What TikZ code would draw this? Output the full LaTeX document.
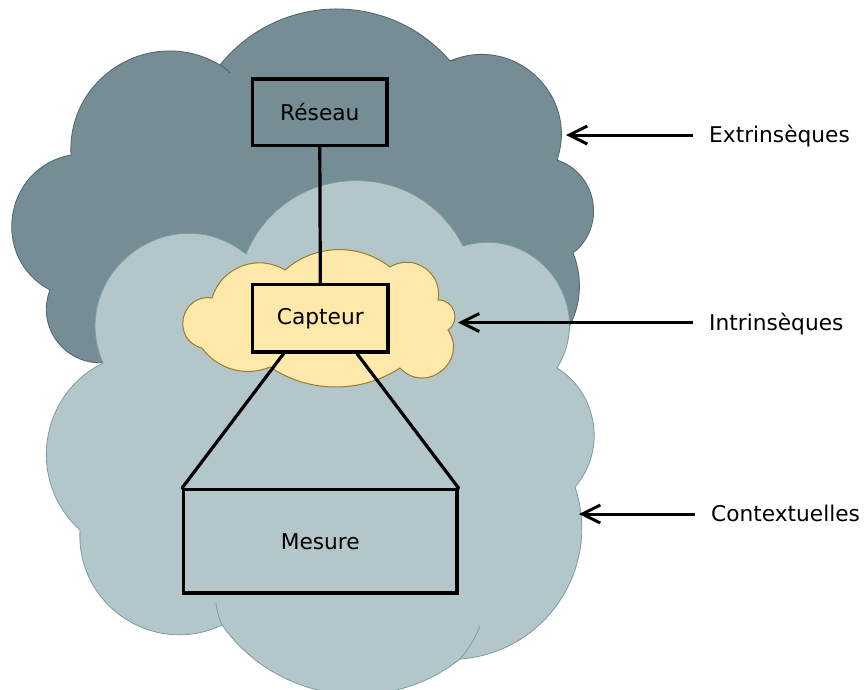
\documentclass[tikz,border=0pt]{standalone}
\usepackage{fontspec}
\setmainfont{DejaVu Sans}
\usetikzlibrary{arrows.meta}
\definecolor{darkc}{HTML}{758D95}
\definecolor{darkb}{HTML}{4F646A}
\definecolor{lightc}{HTML}{B3C6C9}
\definecolor{lightb}{HTML}{7C9CA1}
\definecolor{yelc}{HTML}{FEE8AA}
\definecolor{yelb}{HTML}{A07A28}
\tikzset{
  bump/.code={\pgfmathsetmacro\bmpA{2*atan(#1)}\pgfmathsetmacro\bmpL{0.851*(1+(#1)*(#1))}%
    \edef\bmpTmp{\noexpand\pgfkeysalso{bend left=\bmpA,looseness=\bmpL}}\bmpTmp},
  box/.style={draw=black, line width=3.2pt, inner sep=0pt, font=\fontsize{21.7}{26}\selectfont},
  lbl/.style={anchor=west, inner xsep=16pt, inner ysep=0pt, text height=15.5pt, text depth=0pt, font=\fontsize{21.7}{26}\selectfont},
  arr/.style={line width=3pt, -{Straight Barb[length=18pt,width=18pt]}},
  conn/.style={line width=3.2pt, line cap=round},
  darkline/.style={draw=darkb, line width=0.8pt},
  lightline/.style={draw=lightb, line width=0.8pt},
  yelline/.style={draw=yelb, line width=1pt},
}
\begin{document}
\begin{tikzpicture}[x=1pt,y=-1pt]
\useasboundingbox (0,0) rectangle (864,689);
% dark cloud (extrinsic)
\path[fill=darkc, darkline]
  (220,65) to[bump=0.47] (450,61) to[bump=0.65] (557,160) to[bump=0.6] (573,253)
  to[bump=0.34] (545,355) -- (300,365) -- (108,362)
  to[bump=0.58] (50,290) to[bump=0.71] (71,155) to[bump=0.6] (220,65) -- cycle;
\draw[darkline] (220,65) to[bend left=8] (230,73);
\draw[darkline] (450,61) to[bend right=8] (456,60);
% light cloud (contextual)
\path[fill=lightc, lightline]
  (246,254) to[bump=0.64] (463,246) to[bump=0.69] (557,368) to[bump=0.46] (575,487)
  to[bump=0.49] (460,659) to[bump=0.43] (222,625) to[bump=0.57] (80,530)
  to[bump=0.53] (103,363) to[bump=0.78] (246,254) -- cycle;
\draw[lightline] (222,625) to[bend left=8] (216,603);
\draw[lightline] (460,659) to[bend right=8] (480,626);
% yellow cloud (intrinsic)
\path[fill=yelc, yelline]
  (285,270) to[bump=0.36] (390,267) to[bump=0.65] (438,300) to[bump=0.74] (448,330)
  to[bump=0.92] (400,368) to[bump=0.3] (270,367) to[bump=0.35] (202,348)
  to[bump=0.95] (212,298) to[bump=0.49] (285,270) -- cycle;
% boxes
\node[box, minimum width=134.4pt, minimum height=66.8pt] (res) at (319.8,112.4) {Réseau};
\node[box, minimum width=135.4pt, minimum height=67.7pt] (cap) at (320.3,318.2) {Capteur};
\node[box, minimum width=273.3pt, minimum height=103.3pt] (mes) at (320.3,541.3) {Mesure};
% connectors
\draw[conn] (res.south) -- (cap.north);
\draw[conn] (cap.-136.8) -- (mes.north west);
\draw[conn] (cap.-44) -- (mes.north east);
% labels and arrows
\coordinate (extTip) at (566,135);
\coordinate (intTip) at (458,322.5);
\coordinate (ctxTip) at (579,514);
\node[lbl] (ext) at (693,135) {Extrinsèques};
\node[lbl] (int) at (693,322.5) {Intrinsèques};
\node[lbl] (ctx) at (695,514) {Contextuelles};
\draw[arr] (ext.west) -- (extTip);
\draw[arr] (int.west) -- (intTip);
\draw[arr] (ctx.west) -- (ctxTip);
\end{tikzpicture}
\end{document}
